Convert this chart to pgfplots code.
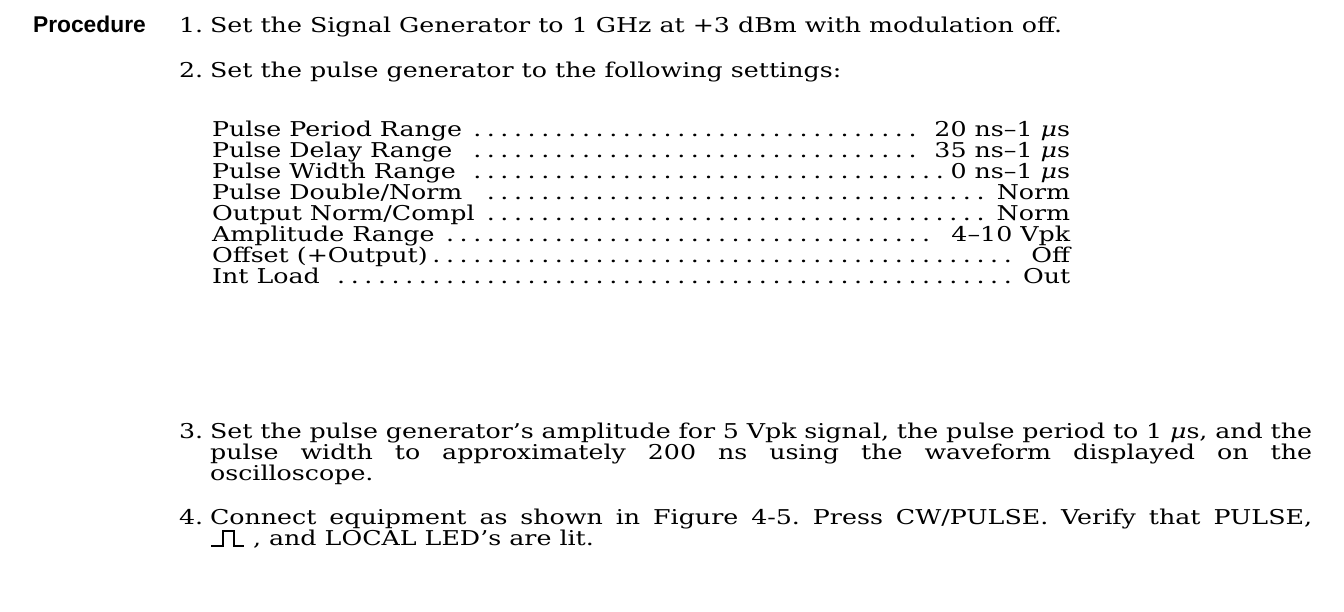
\documentclass[border=0pt]{standalone}
\usepackage{pgfplots}
\pgfplotsset{compat=1.18}
\usepackage{fontspec}
\setmainfont{DejaVu Serif}[FakeStretch=1.24]
\newfontfamily\headfont{Liberation Sans}
\newcommand\mus{\textit{μ}s}
\newcommand\dotleaders{\leaders\hbox to 6.8pt{\hss.\hss}\hfill}
\newcommand\row[2]{\makebox[429pt][s]{#1\dotleaders#2}}
\newcommand\jline[1]{\makebox[551pt][s]{\spaceskip=0.3em plus 3em minus 0.25em #1}}
\frenchspacing
\begin{document}
\begin{tikzpicture}
\begin{axis}[
  scale only axis, width=672pt, height=305.5pt,
  xmin=0, xmax=1344, ymin=0, ymax=611, y dir=reverse,
  hide axis, clip=false,
  every node/.style={inner sep=0pt, outer sep=0pt},
]
\path (rel axis cs:0,0) rectangle (rel axis cs:1,1);
% pulse symbol
\addplot[black, line width=0.7pt, mark=none] coordinates {(211,546) (223,546) (223,531) (234,531) (234,546) (244,546)};
\begin{scope}[font=\fontsize{10.2}{12}\selectfont]
\node[anchor=base west, font=\headfont\bfseries\fontsize{11.4}{13}\selectfont] at (axis cs:26,32) {Procedure};
\node[anchor=base west] at (axis cs:172,32) {1.};
\node[anchor=base west] at (axis cs:203,32) {Set the Signal Generator to 1 GHz at +3 dBm with modulation off.};
\node[anchor=base west] at (axis cs:172,77) {2.};
\node[anchor=base west] at (axis cs:203,77) {Set the pulse generator to the following settings:};
\node[anchor=base west] at (axis cs:205,136) {\row{Pulse Period Range}{ 20 ns–1 \mus}};
\node[anchor=base west] at (axis cs:205,157) {\row{Pulse Delay Range }{ 35 ns–1 \mus}};
\node[anchor=base west] at (axis cs:205,178) {\row{Pulse Width Range }{0 ns–1 \mus}};
\node[anchor=base west] at (axis cs:205,199) {\row{Pulse Double/Norm }{Norm}};
\node[anchor=base west] at (axis cs:205,220) {\row{Output Norm/Compl }{Norm}};
\node[anchor=base west] at (axis cs:205,241) {\row{Amplitude Range}{ 4–10 Vpk}};
\node[anchor=base west] at (axis cs:205,262) {\row{Offset (+Output)}{ Off}};
\node[anchor=base west] at (axis cs:205,283) {\row{Int Load }{Out}};
\node[anchor=base west] at (axis cs:172,438) {3.};
\node[anchor=base west] at (axis cs:203,438) {\jline{Set the pulse generator's amplitude for 5 Vpk signal, the pulse period to 1 \mus, and the}};
\node[anchor=base west] at (axis cs:203,459) {\jline{pulse width to approximately 200 ns using the waveform displayed on the}};
\node[anchor=base west] at (axis cs:203,480) {oscilloscope.};
\node[anchor=base west] at (axis cs:172,524) {4.};
\node[anchor=base west] at (axis cs:203,524) {\jline{Connect equipment as shown in Figure 4-5. Press CW/PULSE. Verify that PULSE,}};
\node[anchor=base west] at (axis cs:246,545) {, and LOCAL LED's are lit.};
\end{scope}
\end{axis}
\end{tikzpicture}
\end{document}
